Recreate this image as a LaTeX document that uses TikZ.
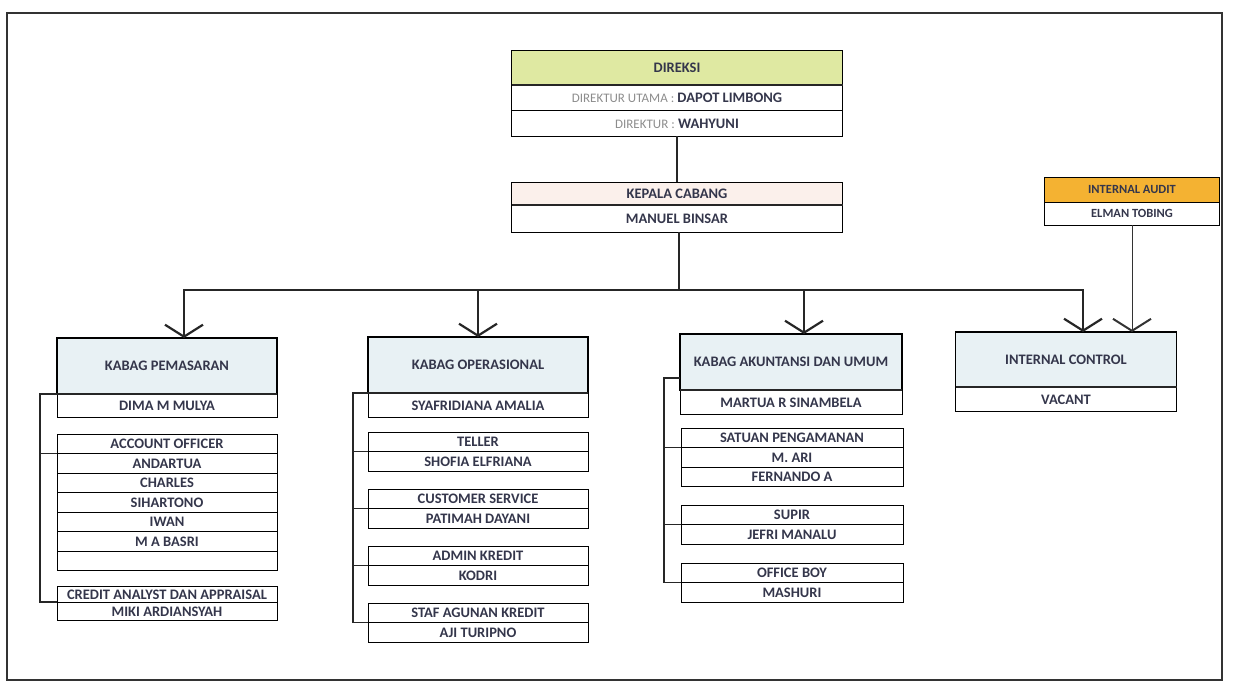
\documentclass[tikz,border=0pt]{standalone}
\usepackage{fontspec}
\setmainfont{Carlito}
\usepackage{xcolor}
\usetikzlibrary{arrows.meta,positioning}

\definecolor{hdrblue}{HTML}{E8F1F4}
\definecolor{direksigreen}{HTML}{DFE9A2}
\definecolor{kepalapink}{HTML}{FBF0EB}
\definecolor{auditorange}{HTML}{F4B232}
\definecolor{txtdark}{HTML}{34364B}
\definecolor{txtgray}{HTML}{8C8C8C}

\begin{document}
\begin{tikzpicture}[x=1pt,y=-1pt,
  hdr/.style={draw, line width=1.1pt, outer sep=0pt, fill=hdrblue, minimum width=220pt, minimum height=56pt, inner sep=0pt, anchor=north, font=\bfseries\fontsize{14.5}{14.5}\selectfont, text=txtdark},
  row/.style={draw, line width=1pt, outer sep=0pt, minimum width=220pt, minimum height=19.5pt, inner sep=0pt, text height=10pt, text depth=0pt, font=\bfseries\fontsize{14.5}{14.5}\selectfont, text=txtdark},
  toprow/.style={row, minimum width=331pt, minimum height=25.5pt},
  auditrow/.style={row, minimum width=175pt, minimum height=24pt, font=\bfseries\fontsize{12.5}{12.5}\selectfont, text height=8.5pt},
  divide/.style={line width=2.3pt, black!85},
  conn/.style={line width=2.2pt, black!85, -{Straight Barb[length=12pt,width=38pt,line width=2.2pt]}},
  thinconn/.style={line width=0.9pt, black!80, -{Straight Barb[length=12pt,width=38pt,line width=2pt]}},
  tree/.style={line width=1.1pt, black!85}
]
\useasboundingbox (0,0) rectangle (1237,683);

% Frame
\draw[line width=1.5pt, black!80] (7,13) rectangle (1222,680);

% Direksi
\node[toprow, fill=direksigreen, anchor=north, minimum height=35pt] (direksi) at (677,50) {DIREKSI};
\node[toprow, below=0pt of direksi] (dirut) {{\mdseries\fontsize{13}{13}\selectfont\color{txtgray}DIREKTUR UTAMA :} DAPOT LIMBONG};
\node[toprow, below=0pt of dirut] (dir) {{\mdseries\fontsize{13}{13}\selectfont\color{txtgray}DIREKTUR :} WAHYUNI};
\draw[divide, line width=1.6pt] (direksi.south west) -- (direksi.south east);

% Kepala cabang
\node[toprow, fill=kepalapink, anchor=north, minimum height=23pt] (kepala) at (677,182) {KEPALA CABANG};
\node[toprow, below=0pt of kepala, minimum height=27pt] (kepalanama) {MANUEL BINSAR};
\draw[divide, line width=1.6pt] (kepala.south west) -- (kepala.south east);
\draw[line width=2.2pt, black!85] (dir.south -| kepala.north) -- (kepala.north);

% Internal audit
\node[auditrow, fill=auditorange, anchor=north, minimum height=25pt] (audit) at (1132,177) {INTERNAL AUDIT};
\node[auditrow, below=0pt of audit, minimum height=23pt] (auditnama) {ELMAN TOBING};

% Kabag boxes
\node[hdr] (pemasaran) at (167,338) {KABAG PEMASARAN};
\node[row, below=0pt of pemasaran, minimum height=23pt] (pemasarannama) {DIMA M MULYA};
\draw[divide] (pemasaran.south west) -- (pemasaran.south east);

\node[hdr] (operasional) at (478,337) {KABAG OPERASIONAL};
\node[row, below=0pt of operasional, minimum height=24pt] (operasionalnama) {SYAFRIDIANA AMALIA};
\draw[divide] (operasional.south west) -- (operasional.south east);

\node[hdr, minimum width=222pt] (akuntansi) at (791,334) {KABAG AKUNTANSI DAN UMUM};
\node[row, below=0pt of akuntansi, minimum width=222pt, minimum height=24pt] (akuntansinama) {MARTUA R SINAMBELA};
\draw[divide] (akuntansi.south west) -- (akuntansi.south east);

\node[hdr, minimum width=221pt, minimum height=55pt] (control) at (1066,332) {INTERNAL CONTROL};
\node[row, below=0pt of control, minimum width=221pt, minimum height=24pt] (controlnama) {VACANT};
\draw[divide] (control.south west) -- (control.south east);

% Connectors from kepala cabang
\coordinate (bus) at (679,290);
\draw[line width=2.2pt, black!85] (kepalanama.south -| bus) -- (bus);
\draw[conn] (bus) -| ([xshift=17pt]pemasaran.north);
\draw[conn] (bus) -| (operasional.north);
\draw[conn] (bus) -| ([xshift=13pt]akuntansi.north);
\draw[conn] (bus) -| ([xshift=17pt]control.north);
\draw[thinconn] (auditnama.south) -- (auditnama.south |- control.north);

% Pemasaran staff
\node[row, anchor=north] (ao) at (167,434) {ACCOUNT OFFICER};
\node[row, below=0pt of ao] (ao1) {ANDARTUA};
\node[row, below=0pt of ao1] (ao2) {CHARLES};
\node[row, below=0pt of ao2] (ao3) {SIHARTONO};
\node[row, below=0pt of ao3] (ao4) {IWAN};
\node[row, below=0pt of ao4] (ao5) {M A BASRI};
\node[row, below=0pt of ao5] (ao6) {};
\node[row, anchor=north, minimum height=16pt] (ca) at (167,586) {CREDIT ANALYST DAN APPRAISAL};
\node[row, below=0pt of ca, minimum height=18pt] (ca1) {MIKI ARDIANSYAH};
\draw[tree] (pemasaran.south west) -| ([xshift=-17pt]ca.south west) -- (ca.south west);
\draw[tree] (ao.south west) -- ([xshift=-17pt]ao.south west);

% Operasional staff
\node[row, anchor=north] (teller) at (478,432) {TELLER};
\node[row, below=0pt of teller] (teller1) {SHOFIA ELFRIANA};
\node[row, anchor=north] (cs) at (478,489) {CUSTOMER SERVICE};
\node[row, below=0pt of cs] (cs1) {PATIMAH DAYANI};
\node[row, anchor=north] (admin) at (478,546) {ADMIN KREDIT};
\node[row, below=0pt of admin] (admin1) {KODRI};
\node[row, anchor=north] (staf) at (478,603) {STAF AGUNAN KREDIT};
\node[row, below=0pt of staf] (staf1) {AJI TURIPNO};
\draw[tree] (operasional.south west) -| ([xshift=-15pt]staf.south west) -- (staf.south west);
\draw[tree] (teller.south west) -- ([xshift=-15pt]teller.south west);
\draw[tree] (cs.south west) -- ([xshift=-15pt]cs.south west);
\draw[tree] (admin.south west) -- ([xshift=-15pt]admin.south west);

% Akuntansi staff
\node[row, anchor=north, minimum width=222pt] (satpam) at (792,428) {SATUAN PENGAMANAN};
\node[row, below=0pt of satpam, minimum width=222pt] (satpam1) {M. ARI};
\node[row, below=0pt of satpam1, minimum width=222pt] (satpam2) {FERNANDO A};
\node[row, anchor=north, minimum width=222pt] (supir) at (792,505) {SUPIR};
\node[row, below=0pt of supir, minimum width=222pt] (supir1) {JEFRI MANALU};
\node[row, anchor=north, minimum width=222pt] (ob) at (792,563) {OFFICE BOY};
\node[row, below=0pt of ob, minimum width=222pt] (ob1) {MASHURI};
\draw[tree] ([yshift=-16pt]akuntansi.west) -| ([xshift=-17pt]ob.south west) -- (ob.south west);
\draw[tree] (satpam.south west) -- ([xshift=-17pt]satpam.south west);
\draw[tree] (supir.south west) -- ([xshift=-17pt]supir.south west);

\end{tikzpicture}
\end{document}
